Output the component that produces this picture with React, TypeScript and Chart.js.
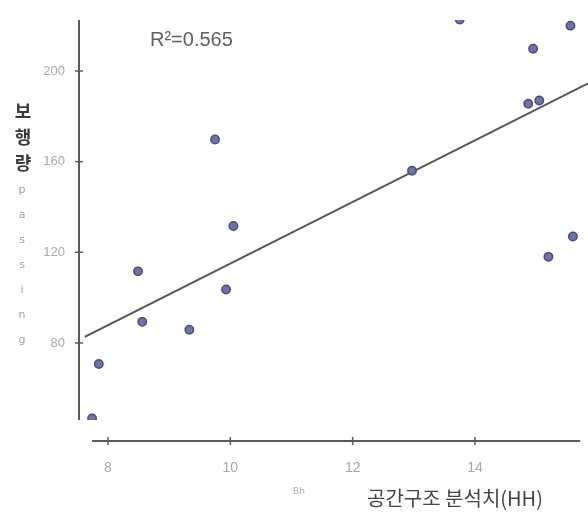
import React, { useEffect, useRef } from "react";
import { Chart, registerables } from "chart.js";

Chart.register(...registerables);

// Data
const hhValues = [7.74, 7.85, 8.49, 8.56, 9.33, 9.93, 9.75, 10.05, 12.97, 13.75, 14.95, 14.87, 15.05, 15.56, 15.6, 15.2];
const passingValues = [46.7, 70.7, 111.6, 89.3, 85.8, 103.6, 169.8, 131.6, 156, 222.7, 209.8, 185.6, 187, 220, 127, 118];
const xTicks = [8, 10, 12, 14];
const yTicks = [80, 120, 160, 200];
const fitSlope = 13.6;
const fitIntercept = -21;
const fitRange = [7.62, 15.85];
const r2Label = "R²=0.565";
const yTitle = ["보", "행", "량"];
const ySubTitle = ["p", "a", "s", "s", "i", "n", "g"];
const xTitle = "공간구조 분석치(HH)";
const xSmall = "Bh";

export default function App() {
  const ref = useRef<HTMLCanvasElement | null>(null);

  useEffect(() => {
    if (!ref.current) return;
    const scatterData = hhValues.map((x, i) => ({ x, y: passingValues[i] }));
    const fitData = fitRange.map((x) => ({ x, y: fitSlope * x + fitIntercept }));

    const axesPlugin = {
      id: "customAxes",
      afterDraw(chart: any) {
        const ctx = chart.ctx;
        const xs = chart.scales.x;
        const ys = chart.scales.y;
        const ca = chart.chartArea;
        ctx.save();
        ctx.strokeStyle = "#5a5a5a";
        ctx.lineWidth = 2;
        // y axis line
        ctx.beginPath();
        ctx.moveTo(ca.left, ca.top);
        ctx.lineTo(ca.left, ca.bottom);
        ctx.stroke();
        ctx.lineWidth = 1.5;
        yTicks.forEach((v) => {
          const py = ys.getPixelForValue(v);
          ctx.beginPath();
          ctx.moveTo(ca.left - 4, py);
          ctx.lineTo(ca.left + 4, py);
          ctx.stroke();
        });
        // x axis line (offset below plot)
        const axY = ca.bottom + 21;
        ctx.lineWidth = 2;
        ctx.beginPath();
        ctx.moveTo(xs.getPixelForValue(7.74), axY);
        ctx.lineTo(xs.getPixelForValue(15.72), axY);
        ctx.stroke();
        ctx.lineWidth = 1.5;
        xTicks.forEach((v) => {
          const px = xs.getPixelForValue(v);
          ctx.beginPath();
          ctx.moveTo(px, axY - 4);
          ctx.lineTo(px, axY + 4);
          ctx.stroke();
        });

        // R² label
        ctx.fillStyle = "#606060";
        ctx.font = "20px 'Liberation Sans', Arial, sans-serif";
        ctx.textAlign = "left";
        ctx.textBaseline = "middle";
        ctx.fillText(r2Label, 150, 40);

        // y title stacked
        ctx.fillStyle = "#3a3a3a";
        ctx.font = "bold 18px 'Noto Sans CJK KR', sans-serif";
        ctx.textAlign = "center";
        yTitle.forEach((c, i) => ctx.fillText(c, 23, 111 + i * 26));
        ctx.fillStyle = "#a0a0a0";
        ctx.font = "11px 'DejaVu Sans', sans-serif";
        ySubTitle.forEach((c, i) => ctx.fillText(c, 22, 190 + i * 25));

        // x title
        ctx.fillStyle = "#454545";
        ctx.font = "20px 'Noto Sans CJK KR', sans-serif";
        ctx.textAlign = "left";
        ctx.fillText(xTitle, 367, 498);
        ctx.fillStyle = "#b0b0b0";
        ctx.font = "9px 'DejaVu Sans', sans-serif";
        ctx.fillText(xSmall, 293, 492);
        ctx.restore();
      },
    };

    const chart = new Chart(ref.current, {
      type: "scatter",
      data: {
        datasets: [
          {
            type: "scatter",
            data: scatterData,
            backgroundColor: "#7272aa",
            borderColor: "#4a4a7e",
            borderWidth: 1.5,
            pointRadius: 4.2,
            order: 0,
          },
          {
            type: "line",
            data: fitData,
            borderColor: "#555555",
            borderWidth: 2,
            pointRadius: 0,
            fill: false,
            order: 1,
          } as any,
        ],
      },
      options: {
        responsive: false,
        animation: false,
        layout: { autoPadding: false, padding: { top: 20, right: 0, left: 0, bottom: 0 } },
        plugins: { legend: { display: false }, tooltip: { enabled: false } },
        scales: {
          x: {
            type: "linear",
            min: 7.526,
            max: 15.847,
            grid: { display: false, drawTicks: false },
            border: { display: false },
            afterFit: (s: any) => {
              s.height = 99;
              s.paddingLeft = 0;
              s.paddingRight = 0;
            },
            afterBuildTicks: (s: any) => {
              s.ticks = xTicks.map((v) => ({ value: v }));
            },
            ticks: {
              padding: 40,
              color: "#a8a8a8",
              font: { size: 14, family: "'Liberation Sans Narrow', 'Liberation Sans', sans-serif" },
            },
          },
          y: {
            type: "linear",
            min: 46,
            max: 222.5,
            grid: { display: false, drawTicks: false },
            border: { display: false },
            afterFit: (s: any) => {
              s.width = 79;
              s.paddingTop = 0;
              s.paddingBottom = 0;
            },
            afterBuildTicks: (s: any) => {
              s.ticks = yTicks.map((v) => ({ value: v }));
            },
            ticks: {
              padding: 14,
              color: "#a8a8a8",
              font: { size: 13, family: "'Liberation Sans Narrow', 'Liberation Sans', sans-serif" },
            },
          },
        },
      },
      plugins: [axesPlugin],
    });
    return () => chart.destroy();
  }, []);

  return (
    <div style={{ position: "absolute", left: 0, top: 0, width: 588, height: 519, background: "#fff" }}>
      <canvas ref={ref} width={588} height={519} />
    </div>
  );
}
